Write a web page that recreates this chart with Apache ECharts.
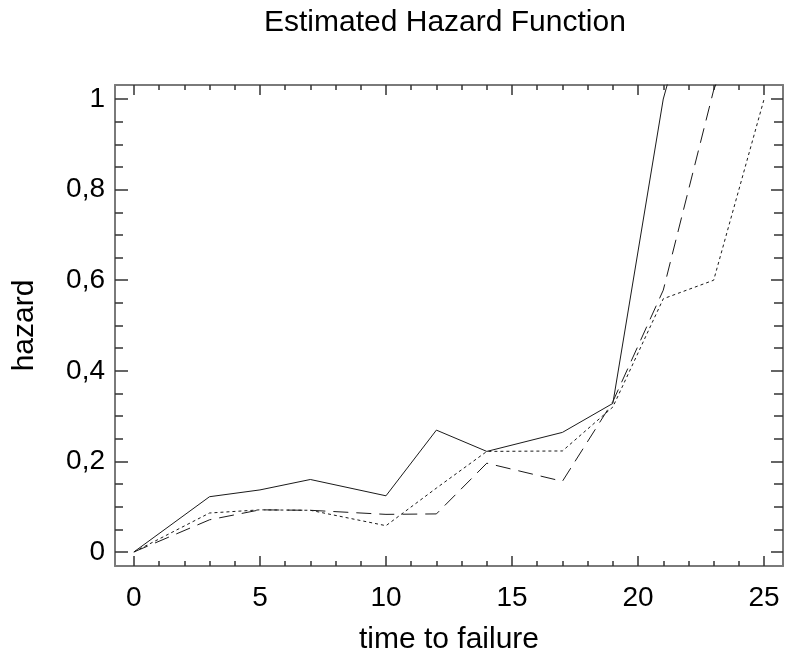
<!DOCTYPE html>
<html>
<head>
<meta charset="utf-8">
<title>Estimated Hazard Function</title>
<script src="https://cdn.jsdelivr.net/npm/echarts@6/dist/echarts.min.js"></script>
<style>
  html, body { margin: 0; padding: 0; background: #fff; }
  #chart { width: 785px; height: 654px; }
</style>
</head>
<body>
<div id="chart"></div>
<script>
// time points of the estimate
const times = [0, 3, 5, 7, 10, 12, 14, 17, 19, 21, 23, 25]

// three hazard curves (values above ~1.03 run off the plot)
const hazardSolid = [0, 0.122, 0.137, 0.160, 0.124, 0.269, 0.222, 0.264, 0.328, 1.0, 1.4]
const hazardDashed = [0, 0.071, 0.093, 0.092, 0.083, 0.084, 0.196, 0.156, 0.332, 0.578, 1.02, 1.3]
const hazardDotted = [0, 0.086, 0.093, 0.092, 0.058, 0.141, 0.222, 0.223, 0.320, 0.559, 0.600, 1.0]

// axis ticks
const xMajorTicks = [0, 5, 10, 15, 20, 25]
const xMinorTicks = [1, 2, 3, 4, 6, 7, 8, 9, 11, 12, 13, 14, 16, 17, 18, 19, 21, 22, 23, 24]
const yMajorTicks = [0, 0.2, 0.4, 0.6, 0.8, 1]
const yMinorTicks = [0.05, 0.1, 0.15, 0.25, 0.3, 0.35, 0.45, 0.5, 0.55, 0.65, 0.7, 0.75, 0.85, 0.9, 0.95]

const FONT = "'Liberation Sans', Arial, sans-serif"
const X_MIN = -0.75, X_MAX = 25.75
const Y_MIN = -0.031, Y_MAX = 1.031

// fixed plot box; outerBoundsMode 'none' stops v6 from shrinking it
const rect = { left: 115, top: 85, right: 2, bottom: 88, containLabel: false, outerBoundsMode: 'none' }
const tickStyle = { color: '#333', width: 1.5 }

function pairs(values) {
  return values.map((v, i) => [times[i], v])
}

// the frame is drawn by the even grids, the odd ones only add minor ticks
function axisLineFor(gridIndex) {
  return {
    show: gridIndex % 2 === 0,
    onZero: false,
    lineStyle: { color: '#7a7a7a', width: 2 },
  }
}

function xAxisFor(gridIndex, position, ticks, len, extra = {}) {
  return {
    gridIndex, position, type: 'value', min: X_MIN, max: X_MAX,
    axisLine: axisLineFor(gridIndex),
    axisTick: { show: true, inside: true, length: len, customValues: ticks, lineStyle: tickStyle },
    axisLabel: { show: false },
    splitLine: { show: false },
    ...extra,
  }
}

function yAxisFor(gridIndex, position, ticks, len, extra = {}) {
  return {
    gridIndex, position, type: 'value', min: Y_MIN, max: Y_MAX,
    axisLine: axisLineFor(gridIndex),
    axisTick: { show: true, inside: true, length: len, customValues: ticks, lineStyle: tickStyle },
    axisLabel: { show: false },
    splitLine: { show: false },
    ...extra,
  }
}

function lineSeries(values, type) {
  return {
    type: 'line',
    xAxisIndex: 0,
    yAxisIndex: 0,
    data: pairs(values),
    symbol: 'none',
    clip: true,
    lineStyle: { color: '#1a1a1a', width: 1, type },
    silent: true,
  }
}

const chart = echarts.init(document.getElementById('chart'), null, { renderer: 'canvas' })

chart.setOption({
  animation: false,
  backgroundColor: '#fff',
  textStyle: { fontFamily: FONT },
  title: {
    text: 'Estimated Hazard Function',
    left: 264,
    top: 8,
    padding: 0,
    textStyle: { fontFamily: FONT, fontSize: 30, fontWeight: 'normal', color: '#000' },
  },
  grid: [0, 1, 2, 3].map(() => ({ ...rect })),
  xAxis: [
    xAxisFor(0, 'bottom', xMajorTicks, 10, {
      axisLabel: {
        show: true, customValues: xMajorTicks, margin: 18,
        fontFamily: FONT, fontSize: 28, color: '#000',
      },
      name: 'time to failure',
      nameLocation: 'middle',
      nameGap: 59,
      nameTextStyle: { fontFamily: FONT, fontSize: 30, color: '#000' },
    }),
    xAxisFor(1, 'bottom', xMinorTicks, 5),
    xAxisFor(2, 'top', xMajorTicks, 10),
    xAxisFor(3, 'top', xMinorTicks, 5),
  ],
  yAxis: [
    yAxisFor(0, 'left', yMajorTicks, 13, {
      axisLabel: {
        show: true, customValues: yMajorTicks, margin: 10,
        fontFamily: FONT, fontSize: 28, color: '#000',
        formatter: v => String(v).replace('.', ','),
      },
      name: 'hazard',
      nameLocation: 'middle',
      nameGap: 75,
      nameTextStyle: { fontFamily: FONT, fontSize: 30, color: '#000' },
    }),
    yAxisFor(1, 'left', yMinorTicks, 8),
    yAxisFor(2, 'right', yMajorTicks, 12),
    yAxisFor(3, 'right', yMinorTicks, 9),
  ],
  series: [
    lineSeries(hazardSolid, 'solid'),
    lineSeries(hazardDashed, [15, 8]),
    lineSeries(hazardDotted, [3, 3]),
  ],
})
</script>
</body>
</html>
